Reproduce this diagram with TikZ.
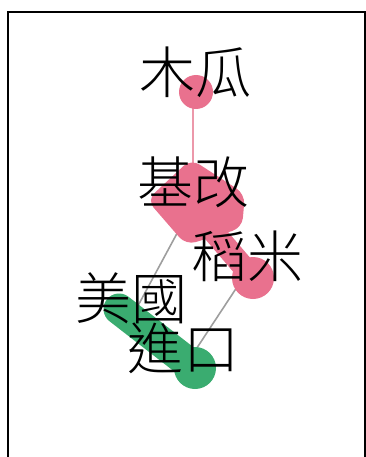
\documentclass[tikz,border=0pt]{standalone}
\usepackage{fontspec}
\newfontfamily\cjk{Noto Sans CJK TC}[UprightFont={* Light}]
\definecolor{pk}{RGB}{233,113,142}
\definecolor{pkl}{RGB}{236,152,170}
\definecolor{gr}{RGB}{58,172,112}
\definecolor{gy}{RGB}{158,158,158}
\begin{document}
\begin{tikzpicture}[x=1pt,y=-1pt,
  lbl/.style={font=\cjk\fontsize{56}{56}\selectfont, inner sep=0pt, anchor=base},
  gedge/.style={draw=gy, line width=1.6pt},
  pedge/.style={draw=pkl, line width=2.5pt}]
\useasboundingbox (0,0) rectangle (366,457);
\draw[line width=2pt] (7.5,460) -- (7.5,12.5) -- (365,12.5) -- (365,460);
% node positions
\coordinate (mg) at (196,92);
\coordinate (jg) at (195,200);
\coordinate (dm) at (253,278);
\coordinate (mk) at (133,315);
\coordinate (jk) at (195,368);
\coordinate (dmE) at (243,278);
\coordinate (jkE) at (185,366);
% gray edges
\draw[gedge] (jg) -- (mk);
\draw[gedge] (dmE) -- (jkE);
% pink edge
\draw[pedge] (193,92) -- (193,178);
% pink nodes
\fill[pk] (mg) circle[radius=17pt];
\fill[pk, rounded corners=10pt] (191,159) -- (245,194) -- (242,228) -- (186,245) -- (147,200) -- cycle;
\draw[pk, line width=22pt] (205,222) -- (dm);
\fill[pk] (dm) circle[radius=21pt];
% green
\draw[gr, line width=31pt, line cap=round] (119,309) -- (jk);
\fill[gr] (jk) circle[radius=21pt];
% labels
\node[lbl] (l1) at (195,94) {木瓜};
\node[lbl] (l2) at (193,203) {基改};
\node[lbl] (l3) at (247,277) {稻米};
\node[lbl] (l4) at (131,319) {美國};
\node[lbl] (l5) at (183,369) {進口};
\end{tikzpicture}
\end{document}
